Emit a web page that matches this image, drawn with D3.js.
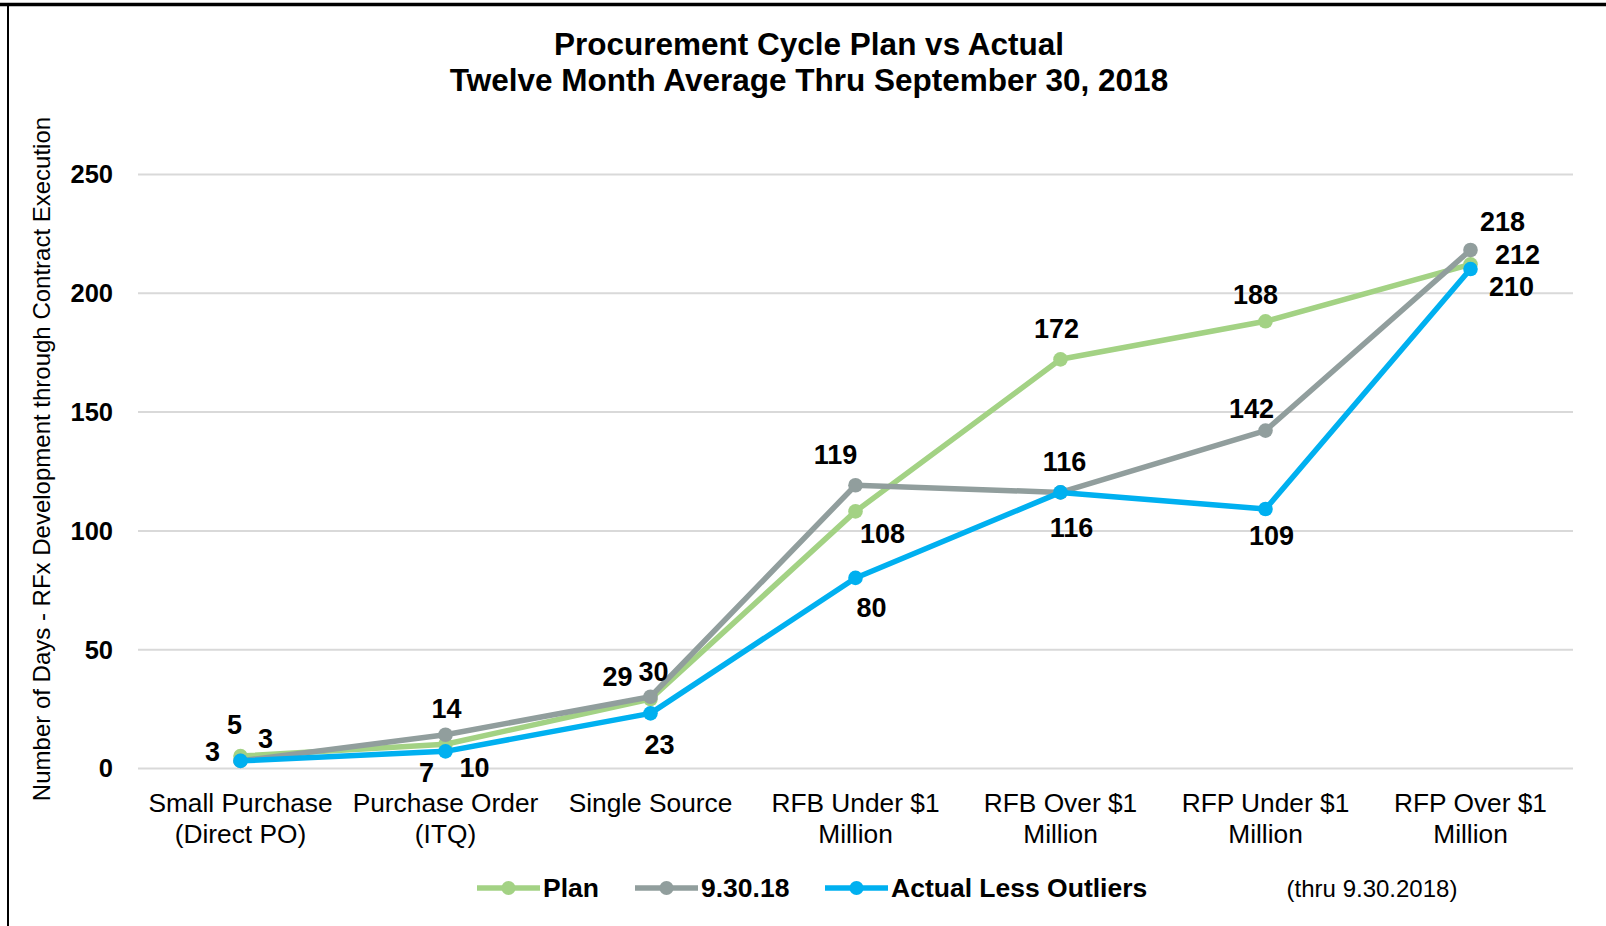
<!DOCTYPE html>
<html>
<head>
<meta charset="utf-8">
<script src="https://cdn.jsdelivr.net/npm/d3@7"></script>
<style>
  html, body { margin: 0; padding: 0; background: #fff; }
  svg { display: block; font-family: "Liberation Sans", Arial, sans-serif; }
</style>
</head>
<body>
<svg id="chart" width="1606" height="926"></svg>
<script>
// ---- data ----
const categories = [
  ["Small Purchase", "(Direct PO)"],
  ["Purchase Order", "(ITQ)"],
  ["Single Source"],
  ["RFB Under $1", "Million"],
  ["RFB Over $1", "Million"],
  ["RFP Under $1", "Million"],
  ["RFP Over $1", "Million"]
];
const planValues   = [5, 10, 29, 108, 172, 188, 212];
const actualValues = [3, 14, 30, 119, 116, 142, 218];
const lessOutliersValues = [3, 7, 23, 80, 116, 109, 210];
const seriesNames = ["Plan", "9.30.18", "Actual Less Outliers"];
const yTicks = [0, 50, 100, 150, 200, 250];
const titleLines = ["Procurement Cycle Plan vs Actual", "Twelve Month Average Thru September 30, 2018"];
const yAxisTitle = "Number of Days - RFx Development through Contract Execution";
const footNote = "(thru 9.30.2018)";

// ---- styling / layout (not data) ----
const colors = ["#A3D284", "#919E9D", "#00B0F0"];
// label offsets [dx, dy] relative to each point, per series
const labelOffsets = [
  [[-6,-31],[29,24],[-33,-22],[27,23],[-4,-30],[-10,-26],[47,-9]],
  [[25,-22],[1,-26],[3,-25],[-20,-30],[4,-30],[-14,-22],[32,-28]],
  [[-28,-9],[-19,22],[9,32],[16,30],[11,36],[6,27],[41,18]]
];

const svg = d3.select("#chart");
const W = 1606, H = 926;
const plot = { left: 138, right: 1573, top: 174, bottom: 768 };

// frame: top and left border
svg.append("line").attr("x1", 0).attr("x2", W).attr("y1", 4.5).attr("y2", 4.5)
  .attr("stroke", "#000").attr("stroke-width", 3.5);
svg.append("line").attr("x1", 8).attr("x2", 8).attr("y1", 3).attr("y2", H)
  .attr("stroke", "#000").attr("stroke-width", 2);

const x = d3.scaleBand().domain(d3.range(categories.length))
  .range([plot.left, plot.right]);
const y = d3.scaleLinear().domain([0, 250]).range([plot.bottom, plot.top]);
const cx = i => x(i) + x.bandwidth() / 2;

// title
svg.append("g").selectAll("text").data(titleLines).join("text")
  .attr("x", 809).attr("y", (d, i) => 44 + i * 36)
  .attr("text-anchor", "middle").attr("dominant-baseline", "central")
  .attr("font-size", 31.5).attr("font-weight", "bold").attr("fill", "#000")
  .text(d => d);

// gridlines
const yAxis = d3.axisLeft(y).tickValues(yTicks).tickSize(-(plot.right - plot.left)).tickPadding(25);
const gy = svg.append("g").attr("transform", `translate(${plot.left},0)`).call(yAxis);
gy.select(".domain").remove();
gy.selectAll(".tick line").attr("stroke", "#D9D9D9").attr("stroke-width", 2);
gy.selectAll(".tick text").attr("font-size", 25.5).attr("font-weight", "bold")
  .attr("fill", "#000").attr("font-family", "Liberation Sans, Arial, sans-serif")
  .attr("dy", "0.35em");

// y axis title
svg.append("text")
  .attr("transform", "translate(41,459) rotate(-90)")
  .attr("text-anchor", "middle").attr("dominant-baseline", "central")
  .attr("font-size", 24).attr("fill", "#000")
  .text(yAxisTitle);

// x category labels
const xg = svg.append("g");
categories.forEach((lines, i) => {
  xg.append("text").attr("x", cx(i)).attr("y", 803)
    .attr("text-anchor", "middle").attr("font-size", 26.3).attr("fill", "#000")
    .attr("dominant-baseline", "central")
    .selectAll("tspan").data(lines).join("tspan")
    .attr("x", cx(i)).attr("dy", (d, j) => j === 0 ? 0 : 31)
    .text(d => d);
});

// series
const allSeries = [planValues, actualValues, lessOutliersValues];
const line = d3.line().x((d, i) => cx(i)).y(d => y(d));
allSeries.forEach((vals, s) => {
  const g = svg.append("g");
  g.append("path").datum(vals).attr("d", line)
    .attr("fill", "none").attr("stroke", colors[s]).attr("stroke-width", 5.5)
    .attr("stroke-linejoin", "round");
  g.selectAll("circle").data(vals).join("circle")
    .attr("cx", (d, i) => cx(i)).attr("cy", d => y(d)).attr("r", 7.3)
    .attr("fill", colors[s]);
});
// labels on top
allSeries.forEach((vals, s) => {
  svg.append("g").selectAll("text").data(vals).join("text")
    .attr("x", (d, i) => cx(i) + labelOffsets[s][i][0])
    .attr("y", (d, i) => y(d) + labelOffsets[s][i][1])
    .attr("text-anchor", "middle").attr("dominant-baseline", "central")
    .attr("font-size", 27).attr("font-weight", "bold").attr("fill", "#000")
    .text(d => d);
});

// legend
const legendX = [477, 635, 825];
const lg = svg.append("g");
seriesNames.forEach((name, s) => {
  const lx = legendX[s];
  lg.append("line").attr("x1", lx).attr("x2", lx + 63).attr("y1", 888).attr("y2", 888)
    .attr("stroke", colors[s]).attr("stroke-width", 5.5);
  lg.append("circle").attr("cx", lx + 31.5).attr("cy", 888).attr("r", 7).attr("fill", colors[s]);
  lg.append("text").attr("x", lx + 66).attr("y", 888).attr("dominant-baseline", "central")
    .attr("font-size", 26.5).attr("font-weight", "bold").attr("fill", "#000").text(name);
});
svg.append("text").attr("x", 1372).attr("y", 888).attr("text-anchor", "middle")
  .attr("dominant-baseline", "central").attr("font-size", 24).attr("fill", "#000")
  .text(footNote);
</script>
</body>
</html>
